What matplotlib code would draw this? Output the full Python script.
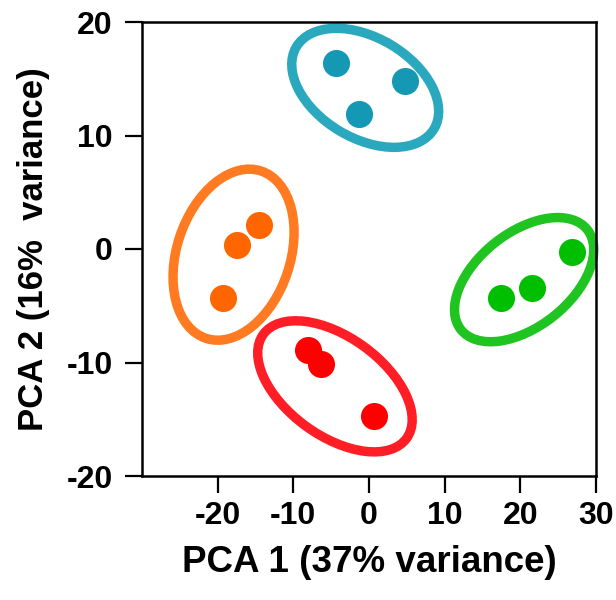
import matplotlib
matplotlib.use("Agg")
import matplotlib.pyplot as plt
from matplotlib.patches import Ellipse

# ---- data ----
groups = ["blue", "orange", "red", "green"]
pc1 = {
    "blue":   [-4.4, 4.8, -1.3],
    "orange": [-14.6, -17.4, -19.3],
    "red":    [-8.0, -6.3, 0.7],
    "green":  [26.8, 21.5, 17.4],
}
pc2 = {
    "blue":   [16.4, 14.8, 11.9],
    "orange": [2.1, 0.35, -4.3],
    "red":    [-8.9, -10.1, -14.7],
    "green":  [-0.3, -3.4, -4.3],
}
# group ellipse: centre (data units)
ell_cx = {"blue": -0.5, "orange": -17.9, "red": -4.5, "green": 20.5}
ell_cy = {"blue": 14.2, "orange": -0.5, "red": -12.1, "green": -2.7}

xticks = [-20, -10, 0, 10, 20, 30]
yticks = [-20, -10, 0, 10, 20]
xlabel = "PCA 1 (37% variance)"
ylabel = "PCA 2 (16%  variance)"

# ---- style ----
dot_col = {"blue": "#1498b4", "orange": "#ff6600", "red": "#ff0000", "green": "#00bf00"}
ring_col = {"blue": "#2aa8be", "orange": "#ff7a20", "red": "#ff1e26", "green": "#20c420"}
# ellipse shape in axes-fraction units (axes box is square on screen)
ell_w = {"blue": 0.353, "orange": 0.388, "red": 0.390, "green": 0.355}
ell_h = {"blue": 0.221, "orange": 0.250, "red": 0.217, "green": 0.207}
ell_ang = {"blue": -30.8, "orange": 71.8, "red": -36.0, "green": 38.3}

plt.rcParams["font.family"] = ["Liberation Sans", "DejaVu Sans"]
plt.rcParams["font.weight"] = "bold"

fig = plt.figure(figsize=(6.16, 6.0), dpi=100)
ax = fig.add_axes([142 / 616, 124 / 600, 454 / 616, 454 / 600])
ax.set_xlim(-30, 30)
ax.set_ylim(-20, 20)

to_axes = ax.transData + ax.transAxes.inverted()
for g in groups:
    cxa, cya = to_axes.transform((ell_cx[g], ell_cy[g]))
    e = Ellipse((cxa, cya), ell_w[g], ell_h[g], angle=ell_ang[g],
                transform=ax.transAxes, fill=False, edgecolor=ring_col[g],
                linewidth=6.8, clip_on=False, zorder=1)
    ax.add_patch(e)
    ax.scatter(pc1[g], pc2[g], s=380, color=dot_col[g], linewidths=0,
               zorder=3, clip_on=False)

ax.set_xticks(xticks)
ax.set_yticks(yticks)
ax.set_xticklabels([str(v) for v in xticks])
ax.set_yticklabels([str(v) for v in yticks])
for s in ax.spines.values():
    s.set_linewidth(1.8)
ax.tick_params(axis="both", direction="out", length=12, width=1.6,
               labelsize=23, colors="black")
ax.tick_params(axis="x", pad=6)
ax.tick_params(axis="y", pad=9)
for lab in ax.get_xticklabels() + ax.get_yticklabels():
    lab.set_fontweight("bold")

ax.set_xlabel(xlabel, fontsize=26.5, fontweight="bold", labelpad=10)
ax.set_ylabel(ylabel, fontsize=25, fontweight="bold", labelpad=12)

fig.savefig("out.png", dpi=100)
